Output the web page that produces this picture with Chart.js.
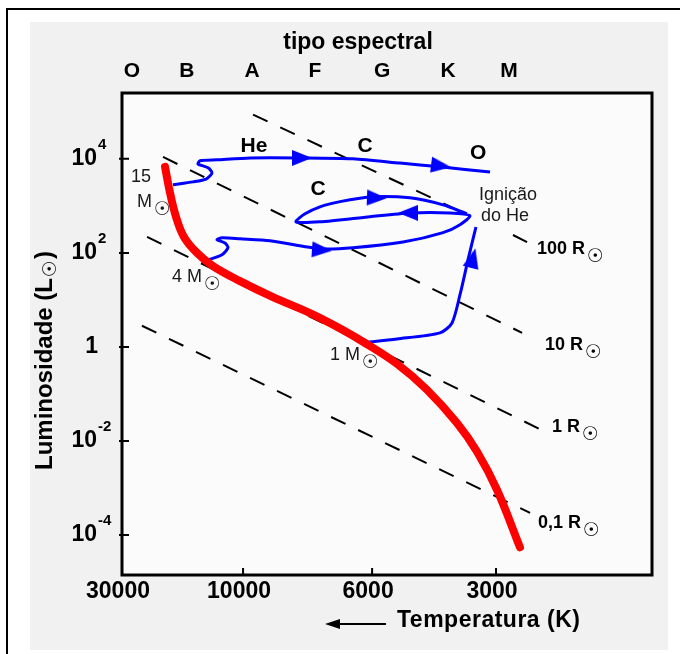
<!DOCTYPE html>
<html>
<head>
<meta charset="utf-8">
<script src="https://cdn.jsdelivr.net/npm/chart.js@4.4.1/dist/chart.umd.min.js"></script>
<style>
  html, body { margin: 0; padding: 0; background: #fff; }
</style>
</head>
<body>
<canvas id="hr" width="680" height="654"></canvas>
<script>
// x = position along the temperature axis (tick 0 = 30000 K ... tick 3 = 3000 K)
// y = log10(L / Lsun)
const tempLabels = ['30000', '10000', '6000', '3000'];
const tempTickPos = [0, 0.971, 2.006, 3];
const specLabels = ['O', 'B', 'A', 'F', 'G', 'K', 'M'];
const specPos = [0.080, 0.521, 1.043, 1.548, 2.086, 2.615, 3.104];
const lumTicks = [4, 2, 0, -2, -4];

// main sequence (red)
const mainSeqX = [0.345, 0.385, 0.433, 0.497, 0.602, 0.730, 0.947, 1.211, 1.508, 1.709, 1.933, 2.206, 2.446, 2.687, 2.848, 3.008, 3.192];
const mainSeqY = [3.83, 3.28, 2.77, 2.34, 2.00, 1.72, 1.40, 1.06, 0.72, 0.45, 0.11, -0.36, -0.91, -1.62, -2.23, -3.04, -4.26];

// evolutionary tracks (blue)
const track15X = [0.409, 0.570, 0.674, 0.722, 0.690, 0.610, 0.626, 0.762, 1.027, 1.428, 1.853, 2.230, 2.551, 2.952];
const track15Y = [3.45, 3.51, 3.57, 3.70, 3.81, 3.89, 3.96, 3.98, 4.02, 4.02, 4.00, 3.91, 3.83, 3.72];
const track4X = [0.690, 0.802, 0.850, 0.826, 0.762, 0.802, 0.947, 1.187, 1.588, 1.853, 2.254, 2.575, 2.711, 2.791,
                 2.631, 2.310, 1.989, 1.588, 1.396, 1.468, 1.588, 1.749, 1.989, 2.310, 2.575, 2.767];
const track4Y = [1.85, 1.96, 2.11, 2.21, 2.28, 2.32, 2.30, 2.26, 2.09, 2.11, 2.23, 2.43, 2.60, 2.79,
                 2.85, 2.85, 2.77, 2.66, 2.66, 2.83, 2.98, 3.09, 3.19, 3.17, 3.02, 2.83];
const track1X = [1.933, 2.206, 2.551, 2.647, 2.711, 2.775, 2.839];
const track1Y = [0.09, 0.17, 0.30, 0.51, 1.11, 1.85, 2.55];

// arrow heads on the tracks
const arrowX = [1.444, 2.559, 2.045, 2.294, 1.604, 2.815];
const arrowY = [4.02, 3.85, 3.17, 2.85, 2.06, 1.89];
const arrowAngle = [0, 7, 2, 180, 4, -76];

// constant radius lines (dashed)
const r100X = [1.051, 2.727, null, 3.136, 3.249];
const r100Y = [4.94, 2.87, null, 2.38, 2.23];
const r10X = [0.329, 3.209];
const r10Y = [4.04, 0.30];
const r1X = [0.201, 3.369];
const r1Y = [2.34, -1.77];
const r01X = [0.160, 3.273];
const r01Y = [0.45, -3.53];

const FONT = '"Liberation Sans", Arial, sans-serif';
const SUN = '\u2609';
const SUN_FONT = '19px "DejaVu Sans"';

function pts(xs, ys) {
  return xs.map((x, i) => ({ x: x, y: ys[i] }));
}

const arrowImg = (function () {
  const c = document.createElement('canvas');
  c.width = 20; c.height = 16;
  const g = c.getContext('2d');
  g.fillStyle = '#0000ff';
  g.beginPath(); g.moveTo(0, 0); g.lineTo(20, 8); g.lineTo(0, 16); g.closePath(); g.fill();
  return c;
})();

// text placed in data units
const notes = [
  { t: 'He', x: 1.059, y: 4.26, f: 'bold 21px', a: 'center' },
  { t: 'C', x: 1.949, y: 4.26, f: 'bold 21px', a: 'center' },
  { t: 'O', x: 2.856, y: 4.13, f: 'bold 21px', a: 'center' },
  { t: 'C', x: 1.572, y: 3.36, f: 'bold 21px', a: 'center' },
  { t: 'Igni\u00e7\u00e3o', x: 2.864, y: 3.23, f: '18px', a: 'left' },
  { t: 'do He', x: 2.880, y: 2.79, f: '18px', a: 'left' },
  { t: '15', x: 0.152, y: 3.62, f: '18px', a: 'center' },
  { t: 'M', x: 0.120, y: 3.085, f: '18px', a: 'left', sun: true },
  { t: '4 M', x: 0.401, y: 1.49, f: '18px', a: 'left', sun: true },
  { t: '1 M', x: 1.668, y: -0.17, f: '18px', a: 'left', sun: true },
  { t: '100 R', x: 3.329, y: 2.085, f: 'bold 18px', a: 'left', sun: true },
  { t: '10 R', x: 3.393, y: 0.043, f: 'bold 18px', a: 'left', sun: true },
  { t: '1 R', x: 3.449, y: -1.70, f: 'bold 18px', a: 'left', sun: true },
  { t: '0,1 R', x: 3.337, y: -3.745, f: 'bold 18px', a: 'left', sun: true }
];

const decor = {
  id: 'decor',
  beforeDraw(chart) {
    const { ctx, chartArea: a } = chart;
    ctx.save();
    ctx.fillStyle = '#ffffff';
    ctx.fillRect(0, 0, chart.width, chart.height);
    ctx.fillStyle = '#f1f1f1';
    ctx.fillRect(30, 22, 638, 628);
    ctx.fillStyle = '#fbfbfb';
    ctx.fillRect(a.left, a.top, a.right - a.left, a.bottom - a.top);
    ctx.fillStyle = '#000';
    ctx.fillRect(6, 8, 2, chart.height - 8);
    ctx.fillRect(6, 8, chart.width - 6, 2);
    ctx.restore();
  },
  afterDraw(chart) {
    const { ctx, chartArea: a } = chart;
    const xs = chart.scales.x, ys = chart.scales.y;
    ctx.save();
    ctx.strokeStyle = '#000';
    ctx.lineWidth = 3;
    ctx.strokeRect(a.left, a.top, a.right - a.left, a.bottom - a.top);

    // tick marks, drawn inward
    ctx.lineWidth = 2;
    ctx.beginPath();
    lumTicks.forEach(v => {
      const py = ys.getPixelForValue(v);
      ctx.moveTo(a.left - 3, py); ctx.lineTo(a.left + 7, py);
    });
    tempTickPos.slice(1).forEach(v => {
      const px = xs.getPixelForValue(v);
      ctx.moveTo(px, a.bottom - 7); ctx.lineTo(px, a.bottom);
    });
    ctx.stroke();

    ctx.fillStyle = '#000';
    ctx.textBaseline = 'middle';

    // luminosity tick labels with exponents
    lumTicks.forEach(v => {
      const py = ys.getPixelForValue(v);
      ctx.font = 'bold 23px ' + FONT;
      ctx.textAlign = 'right';
      if (v === 0) {
        ctx.fillText('1', a.left - 24, py);
        return;
      }
      ctx.fillText('10', a.left - 25, py);
      ctx.font = 'bold 15px ' + FONT;
      ctx.textAlign = 'left';
      ctx.fillText(String(v), a.left - 24, py - 14);
    });

    // titles
    ctx.font = 'bold 23px ' + FONT;
    ctx.textAlign = 'center';
    ctx.fillText('tipo espectral', 358, 43);

    ctx.font = 'bold 23px ' + FONT;
    ctx.textAlign = 'left';
    ctx.letterSpacing = '0.5px';
    ctx.fillText('Temperatura (K)', 397, 621);
    ctx.letterSpacing = '0px';
    ctx.lineWidth = 2;
    ctx.beginPath(); ctx.moveTo(336, 624); ctx.lineTo(386, 624); ctx.stroke();
    ctx.beginPath(); ctx.moveTo(325, 624); ctx.lineTo(340, 619); ctx.lineTo(340, 629); ctx.closePath(); ctx.fill();

    // rotated luminosity title with solar symbol, starting near the bottom
    ctx.save();
    ctx.translate(45, 470);
    ctx.rotate(-Math.PI / 2);
    ctx.textAlign = 'left';
    ctx.font = 'bold 24px ' + FONT;
    const p1 = 'Luminosidade (L';
    const w1 = ctx.measureText(p1).width;
    ctx.fillText(p1, 0, 0);
    ctx.font = SUN_FONT;
    const ws = ctx.measureText(SUN).width;
    ctx.fillText(SUN, w1 + 1, 6);
    ctx.font = 'bold 24px ' + FONT;
    ctx.fillText(')', w1 + ws + 2, 0);
    ctx.restore();

    // annotations
    notes.forEach(n => {
      const px = xs.getPixelForValue(n.x), py = ys.getPixelForValue(n.y);
      ctx.font = n.f + ' ' + FONT;
      ctx.fillStyle = n.f.indexOf('bold') === 0 ? '#000' : '#1a1a1a';
      const w = ctx.measureText(n.t).width;
      const x0 = n.a === 'center' ? px - w / 2 : px;
      ctx.textAlign = 'left';
      ctx.fillText(n.t, x0, py);
      if (n.sun) {
        ctx.font = SUN_FONT;
        ctx.fillText(SUN, x0 + w + 2, py + 8);
      }
    });
    ctx.restore();
  }
};

const dashed = { borderColor: '#000', borderWidth: 2, borderDash: [16, 14], pointRadius: 0, showLine: true, tension: 0 };
const blue = { borderColor: '#0000ff', borderWidth: 3, pointRadius: 0, showLine: true, tension: 0.25 };

new Chart(document.getElementById('hr'), {
  type: 'scatter',
  data: {
    datasets: [
      {
        label: 'setas', data: pts(arrowX, arrowY), pointStyle: arrowImg, pointRotation: arrowAngle,
        pointRadius: 8, showLine: false, backgroundColor: '#0000ff'
      },
      {
        label: 'sequ\u00eancia principal', data: pts(mainSeqX, mainSeqY), borderColor: '#ff0000',
        borderWidth: 8, borderCapStyle: 'round', pointRadius: 0, showLine: true, tension: 0.4
      },
      Object.assign({ label: '1 M', data: pts(track1X, track1Y) }, blue),
      Object.assign({ label: '4 M', data: pts(track4X, track4Y) }, blue),
      Object.assign({ label: '15 M', data: pts(track15X, track15Y) }, blue),
      Object.assign({ label: '100 R', data: pts(r100X, r100Y), spanGaps: false }, dashed),
      Object.assign({ label: '10 R', data: pts(r10X, r10Y) }, dashed),
      Object.assign({ label: '1 R', data: pts(r1X, r1Y) }, dashed),
      Object.assign({ label: '0,1 R', data: pts(r01X, r01Y) }, dashed)
    ]
  },
  options: {
    responsive: false,
    animation: false,
    layout: { padding: { left: 0, right: 28, top: 0, bottom: 0 } },
    plugins: { legend: { display: false }, tooltip: { enabled: false } },
    scales: {
      x: {
        type: 'linear', position: 'bottom', min: 0, max: 4.251,
        afterBuildTicks: s => { s.ticks = tempTickPos.map(v => ({ value: v })); },
        afterFit: s => { s.height = 79; },
        grid: { display: false, drawTicks: false },
        border: { display: false },
        ticks: {
          callback: (v, i) => tempLabels[i], autoSkip: false, maxRotation: 0,
          padding: 3, labelOffset: -4, color: '#000',
          font: { family: FONT, size: 23, weight: 'bold' }
        }
      },
      xTop: {
        type: 'linear', position: 'top', min: 0, max: 4.251,
        afterBuildTicks: s => { s.ticks = specPos.map(v => ({ value: v })); },
        afterFit: s => { s.height = 93; },
        grid: { display: false, drawTicks: false },
        border: { display: false },
        ticks: {
          callback: (v, i) => specLabels[i], autoSkip: false, maxRotation: 0,
          padding: 9, color: '#000',
          font: { family: FONT, size: 21, weight: 'bold' }
        }
      },
      y: {
        type: 'linear', position: 'left', min: -4.85, max: 5.40,
        afterBuildTicks: s => { s.ticks = lumTicks.map(v => ({ value: v })); },
        afterFit: s => { s.width = 122; },
        grid: { display: false, drawTicks: false },
        border: { display: false },
        ticks: { display: false }
      }
    }
  },
  plugins: [decor]
});
</script>
</body>
</html>
